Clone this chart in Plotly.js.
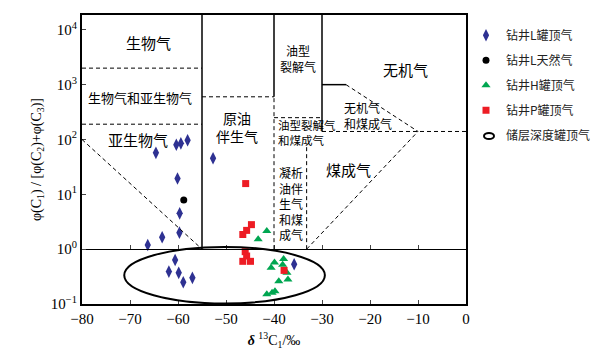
<!DOCTYPE html>
<html><head><meta charset="utf-8">
<script src="https://cdn.plot.ly/plotly-3.0.1.min.js"></script>
<style>body{margin:0;padding:0;background:#fff}#chart{width:599px;height:354px}</style>
</head><body><div id="chart"></div>
<script>
// ---- data (δ13C1 ‰, C1/(C2+C3)) ----
var seriesNames = ['钻井L罐顶气', '钻井L天然气', '钻井H罐顶气', '钻井P罐顶气', '储层深度罐顶气'];
var wellL_canX = [-58.0, -59.4, -60.35, -64.6, -60.1, -59.65, -59.7, -63.3, -66.3, -52.7, -60.6, -61.9, -59.85, -58.9, -57.0, -35.8];
var wellL_canY = [97, 85, 80, 57, 19.4, 4.5, 2.0, 1.65, 1.19, 45.6, 0.635, 0.39, 0.37, 0.25, 0.30, 0.53];
var wellL_gasX = [-58.8];
var wellL_gasY = [7.9];
var wellH_canX = [-41.5, -43.3, -40.6, -39.9, -38.0, -38.2, -37.3, -39.0, -37.1, -41.5, -40.4, -39.8];
var wellH_canY = [2.15, 1.51, 0.46, 0.57, 0.66, 0.52, 0.37, 0.26, 0.28, 0.15, 0.16, 0.17];
var wellP_canX = [-45.9, -44.7, -45.7, -46.5, -46.0, -45.7, -46.5, -44.9, -37.9];
var wellP_canY = [15.7, 2.8, 2.2, 1.85, 0.9, 0.75, 0.6, 0.6, 0.41];
var xTickVals = [-80, -70, -60, -50, -40, -30, -20, -10, 0];
var yTickVals = [0.1, 1, 10, 100, 1000, 10000];
var yTickText = ['10<sup>−1</sup>', '10<sup>0</sup>', '10<sup>1</sup>', '10<sup>2</sup>', '10<sup>3</sup>', '10<sup>4</sup>'];

var serif = 'Liberation Serif, Times New Roman, serif';
var cjk = 'Noto Sans CJK SC, sans-serif';
var YTOP = Math.pow(10, 4.27);
var DASH = '4px,3px';

var traces = [
  {x: wellL_canX, y: wellL_canY, name: seriesNames[0], mode: 'markers', legendgroup: 'a',
   marker: {symbol: 'diamond-tall', size: 9, color: '#2e3192'}},
  {x: wellL_gasX, y: wellL_gasY, name: seriesNames[1], mode: 'markers', legendgroup: 'b',
   marker: {symbol: 'circle', size: 7, color: '#000000'}},
  {x: wellH_canX, y: wellH_canY, name: seriesNames[2], mode: 'markers', legendgroup: 'c',
   marker: {symbol: 'triangle-up', size: 8, color: '#00a651'}},
  {x: wellP_canX, y: wellP_canY, name: seriesNames[3], mode: 'markers', legendgroup: 'd',
   marker: {symbol: 'square', size: 7, color: '#ed1c24'}},
  {x: [null], y: [null], name: seriesNames[4], mode: 'markers', legendgroup: 'e',
   marker: {symbol: 'circle-open', size: 8, color: 'rgba(0,0,0,0)', line: {width: 0}}}
];

function seg(x0, y0, x1, y1, dash, w) {
  return {type: 'line', xref: 'x', yref: 'y', x0: x0, y0: y0, x1: x1, y1: y1,
          line: {color: '#000', width: w || 1, dash: dash ? DASH : 'solid'}};
}
var shapes = [
  seg(-80, 2000, -55, 2000, true),
  seg(-80, 190, -55, 190, true),
  seg(-55, 1, -55, YTOP, false, 1.5),
  seg(-55, 600, -40, 600, true),
  seg(-40, 600, -40, YTOP, false, 1.5),
  seg(-40, 1, -40, 600, true),
  seg(-40, 250, -30, 250, true),
  seg(-33.2, 1, -33.2, 85, true),
  seg(-30, 140, -30, YTOP, false, 1.5),
  seg(-30, 1000, -25, 1000, false, 1.5),
  seg(-25, 1000, -10, 140, true),
  seg(-30, 140, 0, 140, true),
  seg(-33.2, 1, -10, 140, true),
  seg(-80, 100, -55, 1, true),
  {type: 'circle', xref: 'x', yref: 'y', x0: -71.2, x1: -29.4, y0: 0.102, y1: 1.1,
   line: {color: '#000', width: 2}},
  // legend symbol for the ellipse entry
  {type: 'circle', xref: 'paper', yref: 'paper', x0: (484 - 82) / 384, x1: (494 - 82) / 384,
   y0: (304 - 139) / 289, y1: (304 - 133) / 289, line: {color: '#000', width: 2}}
];

function lab(x, ly, t, s, anchor) {
  return {x: x, y: ly, xref: 'x', yref: 'y', text: t, showarrow: false,
          xanchor: anchor || 'center', yanchor: 'middle', align: anchor || 'center',
          font: {family: cjk, size: s, color: '#000'}};
}
var annotations = [
  lab(-66.2, 3.77, '生物气', 15),
  lab(-67.9, 2.76, '生物气和亚生物气', 13),
  lab(-68.3, 2.0, '亚生物气', 15),
  lab(-47.8, 2.22, '原油<br>伴生气', 14),
  lab(-35.1, 3.47, '油型<br>裂解气', 12),
  lab(-12.7, 3.28, '无机气', 15),
  lab(-25.9, 2.43, '无机气<br>和煤成气', 12, 'left'),
  lab(-39.6, 2.12, '油型裂解气<br>和煤成气', 11.5, 'left'),
  lab(-24.5, 1.46, '煤成气', 15),
  lab(-36.5, 0.83, '凝析<br>油伴<br>生气<br>和煤<br>成气', 12)
];

var layout = {
  width: 599, height: 354,
  margin: {l: 82, r: 133, t: 15, b: 50, autoexpand: false},
  paper_bgcolor: '#fff', plot_bgcolor: '#fff',
  showlegend: true,
  legend: {x: 1.0, xanchor: 'left', y: 0.98, yanchor: 'top', tracegroupgap: 6,
           font: {family: cjk, size: 12, color: '#222'}, bgcolor: 'rgba(0,0,0,0)'},
  xaxis: {range: [-80, 0], tickvals: xTickVals, ticks: 'inside', ticklen: 4, tickwidth: 1,
          showgrid: false, zeroline: false, showline: true, linewidth: 2, linecolor: '#000', mirror: true,
          tickfont: {family: serif, size: 15, color: '#000'},
          title: {text: '<b><i>δ</i></b> <sup>13</sup>C<sub>1</sub>/‰', font: {family: serif, size: 14, color: '#000'}, standoff: 9}},
  xaxis2: {range: [-80, 0], overlaying: 'x', anchor: 'free', position: 1 / 5.27, side: 'bottom',
           tickvals: xTickVals, ticks: 'inside', ticklen: 4, showticklabels: false, showgrid: false,
           zeroline: false, showline: true, linewidth: 1, linecolor: '#000'},
  yaxis: {type: 'log', range: [-1, 4.27], tickvals: yTickVals, ticktext: yTickText,
          ticks: 'inside', ticklen: 4, showgrid: false, zeroline: false, showline: true,
          linewidth: 2, linecolor: '#000', mirror: true,
          tickfont: {family: serif, size: 15, color: '#000'},
          title: {text: 'φ(C<sub>1</sub>) / [φ(C<sub>2</sub>)+φ(C<sub>3</sub>)]', font: {family: serif, size: 14, color: '#000'}, standoff: 6}},
  shapes: shapes,
  annotations: annotations
};
// invisible trace to activate xaxis2 (the 10^0 divider axis)
traces.push({x: [-80], y: [1], xaxis: 'x2', mode: 'markers', marker: {opacity: 0}, showlegend: false, hoverinfo: 'skip'});
Plotly.newPlot('chart', traces, layout, {displayModeBar: false, staticPlot: true});
</script></body></html>
